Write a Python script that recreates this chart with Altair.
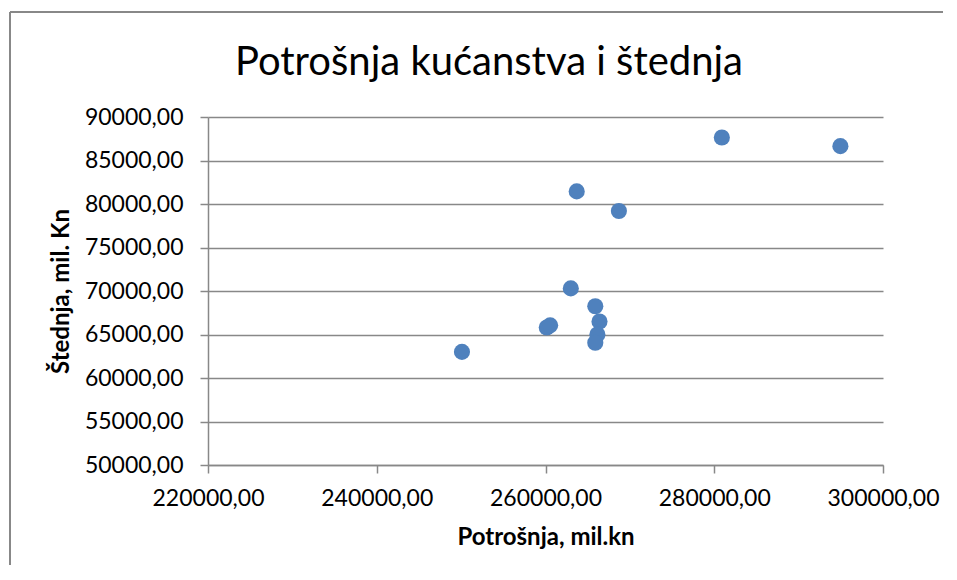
import altair as alt
import pandas as pd

# Data
potrosnja = [250100, 260150, 260550, 263000, 265900, 266400, 266150, 265900,
             263700, 268700, 280900, 294950]
stednja = [63000, 65800, 66050, 70300, 68250, 66500, 65000, 64050,
           81450, 79200, 87650, 86650]

x_ticks = [220000, 240000, 260000, 280000, 300000]
y_ticks = [50000, 55000, 60000, 65000, 70000, 75000, 80000, 85000, 90000]
chart_title = "Potrošnja kućanstva i štednja"

df = pd.DataFrame({"Potrošnja": potrosnja, "Štednja": stednja})

FONT = "Lato"
GRAY = "#888888"
label_expr = "replace(format(datum.value, '.2f'), '.', ',')"

points = alt.Chart(df).mark_circle(size=260, opacity=1, color="#4F81BD").encode(
    x=alt.X(
        "Potrošnja:Q",
        scale=alt.Scale(domain=[220000, 300000], nice=False, zero=False),
        axis=alt.Axis(
            values=x_ticks, grid=False, labelExpr=label_expr,
            title="Potrošnja, mil.kn", tickSize=8, labelPadding=14,
            titlePadding=15, labelFlush=False, labelOverlap=False,
        ),
    ),
    y=alt.Y(
        "Štednja:Q",
        scale=alt.Scale(domain=[50000, 90000], nice=False, zero=False),
        axis=alt.Axis(
            values=y_ticks, grid=True, labelExpr=label_expr,
            title="Štednja, mil. Kn", tickSize=8, labelPadding=17,
            titlePadding=11, labelFlush=False, labelOverlap=False,
        ),
    ),
)

one = pd.DataFrame({"k": [0]})
frame_top = alt.Chart(one).mark_rule(stroke=GRAY, strokeWidth=2).encode(
    x=alt.value(-198), x2=alt.value(760), y=alt.value(-105),
)
frame_left = alt.Chart(one).mark_rule(stroke=GRAY, strokeWidth=2).encode(
    x=alt.value(-198), y=alt.value(-105), y2=alt.value(470),
)

title_text = alt.Chart(pd.DataFrame({"t": [chart_title]})).mark_text(
    font=FONT, fontSize=40, align="center", baseline="alphabetic", color="#000000"
).encode(
    text="t:N", x=alt.value(281), y=alt.value(-42),
)

chart = alt.layer(frame_top, frame_left, title_text, points).properties(
    width=675,
    height=348,
    autosize=alt.AutoSizeParams(type="none"),
    padding={"left": 200, "top": 109, "right": 60, "bottom": 100},
).configure_view(
    stroke=None
).configure_axis(
    labelFont=FONT, labelFontSize=23, labelColor="#000000",
    titleFont=FONT, titleFontSize=24, titleFontWeight="bold", titleColor="#000000",
    domainColor=GRAY, domainWidth=1.5, tickColor=GRAY, tickWidth=1.5,
    gridColor=GRAY, gridWidth=1.5, gridOpacity=1,
)

chart.save("out.html", embed_options={"renderer": "svg", "actions": False})
